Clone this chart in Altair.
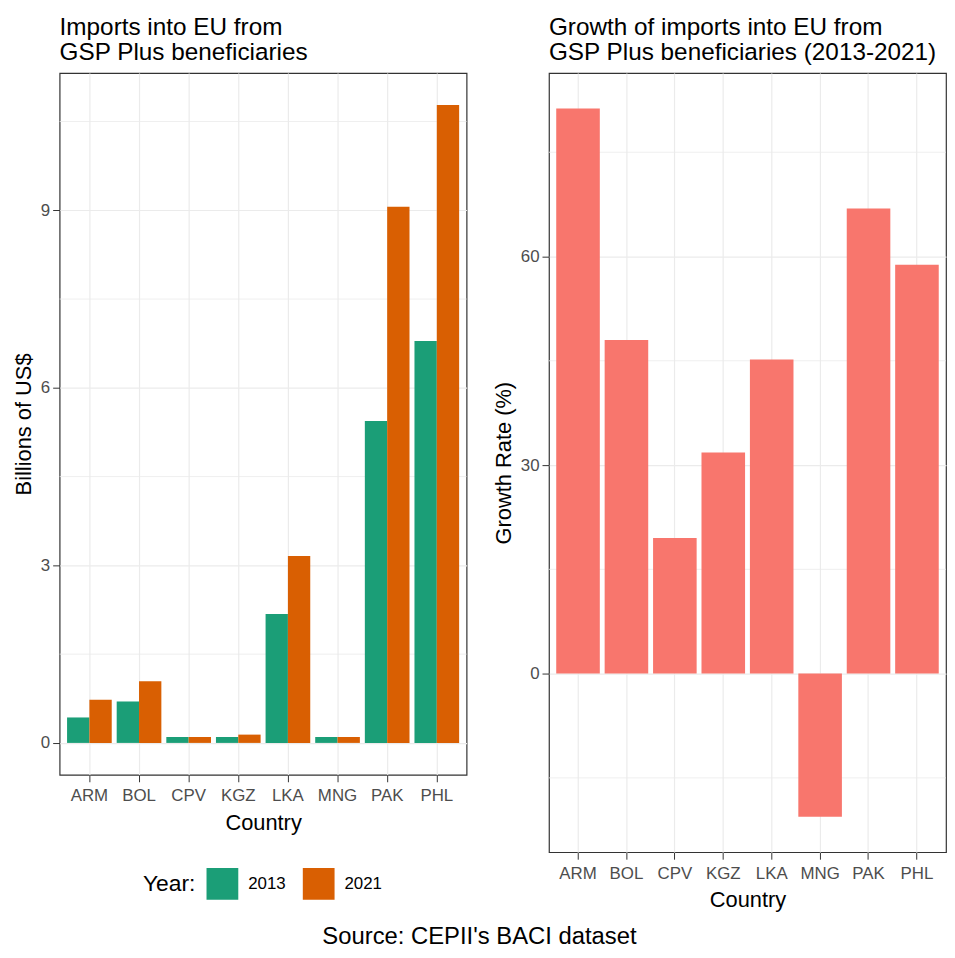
import altair as alt
import pandas as pd

FONT = "Liberation Sans"

countries = ["ARM", "BOL", "CPV", "KGZ", "LKA", "MNG", "PAK", "PHL"]
years = ["2013", "2021"]
imports_2013 = [0.43, 0.70, 0.10, 0.10, 2.18, 0.10, 5.44, 6.79]
imports_2021 = [0.73, 1.04, 0.10, 0.14, 3.16, 0.10, 9.06, 10.78]
growth_rate = [81.3, 48.0, 19.5, 31.8, 45.2, -20.6, 66.9, 58.8]

left_major = [0, 3, 6, 9]
left_minor = [1.5, 4.5, 7.5, 10.5]
right_major = [0, 30, 60]
right_minor = [-15, 15, 45, 75]

year_colors = ["#1B9E77", "#D95F02"]
growth_color = "#F8766D"


def expand(vals):
    lo = min(min(vals), 0)
    hi = max(max(vals), 0)
    pad = 0.05 * (hi - lo)
    return [lo - pad, hi + pad]


imports_df = pd.DataFrame({
    "Country": countries * 2,
    "Year": [years[0]] * len(countries) + [years[1]] * len(countries),
    "Value": imports_2013 + imports_2021,
})
growth_df = pd.DataFrame({"Country": countries, "Growth": growth_rate})

left_domain = expand(imports_2013 + imports_2021)
right_domain = expand(growth_rate)

x_axis = alt.Axis(title="Country", labelAngle=0, bandPosition=0.5, grid=True)
left_y_scale = alt.Scale(domain=left_domain, nice=False, zero=False)
right_y_scale = alt.Scale(domain=right_domain, nice=False, zero=False)
left_y_axis = alt.Axis(values=left_major, grid=True, title="Billions of US$")
right_y_axis = alt.Axis(values=right_major, grid=True, title="Growth Rate (%)")

# ---- left panel ----
left_minor_rules = alt.Chart(pd.DataFrame({"v": left_minor})).mark_rule(
    color="#EBEBEB", strokeWidth=0.8
).encode(
    y=alt.Y("v:Q", title="Billions of US$", axis=left_y_axis, scale=left_y_scale)
)

left_bars = alt.Chart(imports_df).mark_bar(strokeWidth=0).encode(
    x=alt.X("Country:N", sort=countries,
            scale=alt.Scale(paddingInner=0.1, paddingOuter=0.15), axis=x_axis),
    xOffset=alt.XOffset("Year:N", sort=years,
                        scale=alt.Scale(paddingInner=0, paddingOuter=0)),
    y=alt.Y("Value:Q", title="Billions of US$", axis=left_y_axis, scale=left_y_scale),
    color=alt.Color(
        "Year:N",
        scale=alt.Scale(domain=years, range=year_colors),
        legend=alt.Legend(
            orient="none", legendX=84, legendY=801, direction="horizontal",
            title="Year:", titleOrient="left", symbolType="square",
            symbolSize=1024, symbolStrokeWidth=0, labelFontSize=17,
            titleFontSize=23, labelOffset=10, columnPadding=17,
            titlePadding=11, titleFontWeight="normal", titleColor="black",
            labelColor="black", labelFont=FONT, titleFont=FONT,
        ),
    ),
)

left = alt.layer(left_minor_rules, left_bars).properties(
    width=410, height=707,
    title=alt.TitleParams(["Imports into EU from", "\u00a0GSP Plus beneficiaries"],
                          anchor="start", frame="group", offset=8, lineHeight=25),
)

# ---- right panel ----
right_minor_rules = alt.Chart(pd.DataFrame({"v": right_minor})).mark_rule(
    color="#EBEBEB", strokeWidth=0.8
).encode(
    y=alt.Y("v:Q", title="Growth Rate (%)", axis=right_y_axis, scale=right_y_scale)
)

right_bars = alt.Chart(growth_df).mark_bar(color=growth_color, strokeWidth=0).encode(
    x=alt.X("Country:N", sort=countries,
            scale=alt.Scale(paddingInner=0.1, paddingOuter=0.15), axis=x_axis),
    y=alt.Y("Growth:Q", title="Growth Rate (%)", axis=right_y_axis, scale=right_y_scale),
)

right = alt.layer(right_minor_rules, right_bars).properties(
    width=400, height=785,
    title=alt.TitleParams(["Growth of imports into EU from",
                           "\u00a0GSP Plus beneficiaries (2013-2021)"],
                          anchor="start", frame="group", offset=8, lineHeight=25),
)

chart = alt.hconcat(left, right, spacing=24).properties(
    title=alt.TitleParams("Source: CEPII's BACI dataset", orient="bottom",
                          anchor="middle", fontSize=24, offset=14, frame="bounds"),
    padding={"left": 3, "top": 2, "right": 0, "bottom": 0},
).configure_view(
    stroke="#333333", strokeWidth=1.2
).configure_axis(
    labelFont=FONT, titleFont=FONT, labelFontSize=17, titleFontSize=22,
    labelColor="#4D4D4D", titleColor="black", titleFontWeight="normal",
    tickColor="#333333", tickSize=7, labelPadding=3, titlePadding=5,
    domain=False, gridColor="#EBEBEB", gridWidth=1.2,
).configure_axisX(
    labelPadding=6, titlePadding=9,
).configure_title(
    font=FONT, fontSize=24.5, fontWeight="normal", color="black",
)

chart.save("out.html", embed_options={"renderer": "svg", "actions": False})
